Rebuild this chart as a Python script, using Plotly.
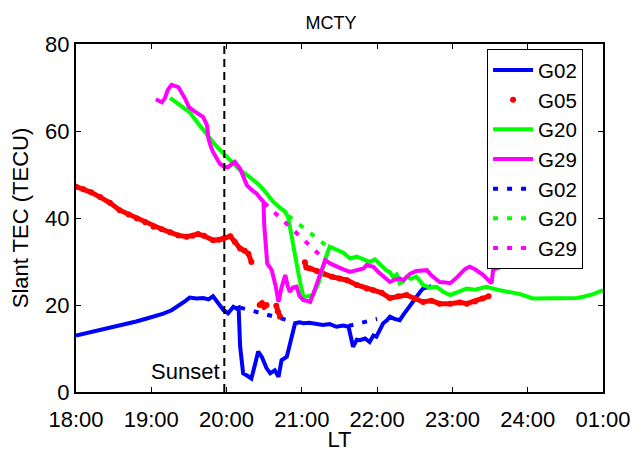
import plotly.graph_objects as go

# ---------------- data ----------------
tick_vals = [18, 19, 20, 21, 22, 23, 24, 25]
tick_text = ["18:00", "19:00", "20:00", "21:00", "22:00", "23:00", "24:00", "01:00"]
sunset_time = 19.97

g02_x = [18.0, 18.2, 18.4, 18.6, 18.8, 18.94, 19.05, 19.16, 19.27, 19.38, 19.45, 19.51, 19.6, 19.69, 19.76,
         19.82, 19.88, 19.96, 20.02, 20.09, 20.13, 20.16, 20.18, 20.2, 20.22, 20.27, 20.33, 20.38, 20.42, 20.47,
         20.53, 20.58, 20.64, 20.69, 20.73, 20.8, 20.85, 20.91, 20.97, 21.02, 21.1, 21.2, 21.28, 21.37, 21.46,
         21.55, 21.62, 21.68, 21.73, 21.77, 21.84, 21.9, 21.95, 21.99, 22.04, 22.08, 22.13, 22.17, 22.23, 22.3,
         22.35, 22.39, 22.45, 22.52, 22.57, 22.61, 22.68, 22.72]
g02_y = [13.0, 13.8, 14.6, 15.3, 16.2, 16.9, 17.4, 18.0, 18.8, 20.0, 20.9, 21.7, 21.5, 21.6, 21.3,
         22.0, 20.5, 18.8, 18.1, 19.6, 19.2, 19.4, 10.5, 7.0, 4.3, 3.8, 3.1, 6.5, 9.3, 8.0,
         5.5, 4.3, 5.0, 3.5, 7.3, 8.1, 11.5, 15.8, 16.0, 15.8, 15.9, 15.6, 15.4, 15.6, 15.0,
         15.3, 15.0, 10.4, 12.0, 11.9, 12.3, 11.5, 13.0, 12.7, 14.5, 15.8, 16.5, 17.3, 16.8, 16.5,
         17.8, 18.8, 20.0, 21.9, 23.0, 23.8, 24.0, 24.3]

g05_x = [18.0, 18.1, 18.2, 18.32, 18.45, 18.58, 18.7, 18.81, 18.92, 19.03, 19.14, 19.25, 19.36, 19.47, 19.55,
         19.62, 19.7, 19.82, 19.9, 19.96, 20.05, 20.11, 20.18, 20.24, 20.29, 20.33, None, 20.44, 20.47, 20.5,
         20.53, None, 20.66, 20.68, 20.71, None, 21.04, 21.06, 21.11, 21.2, 21.28, 21.4, 21.5, 21.6, 21.73,
         21.86, 21.95, 22.06, 22.17, 22.28, 22.39, 22.5, 22.61, 22.72, 22.83, 22.97, 23.1, 23.19, 23.3, 23.4, 23.48]
g05_y = [47.2, 46.6, 45.9, 44.8, 43.5, 41.8, 40.8, 39.9, 39.0, 38.0, 37.4, 36.7, 36.0, 35.7, 35.9,
         36.3, 35.9, 34.9, 35.0, 35.3, 35.8, 34.5, 33.0, 32.5, 31.8, 29.9, None, 20.0, 20.4, 19.6,
         20.0, None, 19.8, 18.5, 17.3, None, 29.8, 28.6, 28.4, 27.8, 27.2, 26.5, 26.1, 25.7, 24.6,
         23.8, 23.4, 22.8, 21.6, 22.0, 22.3, 21.5, 20.7, 21.0, 20.3, 20.3, 20.6, 20.3, 20.8, 21.5, 22.0]

g20_x = [19.25, 19.38, 19.51, 19.62, 19.74, 19.85, 19.96, 20.07, 20.18, 20.3, 20.44, 20.53, 20.62, 20.7, 20.78,
         20.82, 20.85, 20.88, 20.93, 20.98, 21.02, 21.08, 21.15, 21.22, 21.28, 21.33, 21.37, 21.46, 21.55, 21.64,
         21.73, 21.82, 21.9, 21.97, 22.04, 22.12, 22.17, 22.21, 22.26, 22.3, 22.35, 22.39, 22.45, 22.52, 22.57,
         22.61, 22.7, 22.79, 22.88, 22.97, 23.08, 23.19, 23.3, 23.45, 23.6, 23.76, 23.9, 24.07, 24.3, 24.52,
         24.65, 24.74, 24.87, 25.0]
g20_y = [67.6, 66.0, 64.3, 61.8, 59.0, 56.8, 54.8, 52.8, 51.0, 49.5, 47.5, 45.7, 43.7, 42.5, 41.4,
         40.0, 37.0, 33.5, 29.5, 25.0, 21.9, 22.0, 22.3, 25.0, 28.8, 31.5, 33.4, 32.6, 32.0, 30.7,
         31.1, 30.5, 29.9, 30.5, 29.2, 28.0, 27.5, 26.5, 27.0, 25.0, 25.5, 26.5, 26.0, 26.5, 25.5,
         24.6, 24.0, 24.2, 23.0, 22.3, 23.0, 23.8, 23.5, 24.2, 23.5, 23.0, 22.5, 21.5, 21.5, 21.5,
         21.6, 21.9, 22.5, 23.4]

g29_x = [19.06, 19.14, 19.18, 19.22, 19.27, 19.36, 19.45, 19.5, 19.56, 19.62, 19.69, 19.74, 19.76, 19.79, 19.82,
         19.91, 19.96, 20.02, 20.07, 20.11, 20.18, 20.22, 20.27, 20.33, 20.4, 20.45, 20.49, 20.5, 20.52, 20.54,
         20.57, 20.6, 20.65, 20.69, 20.73, 20.78, 20.81, 20.84, 20.88, 20.93, 20.97, 21.02, 21.06, 21.11, 21.15,
         21.2, 21.25, 21.31, 21.38, 21.46, 21.55, 21.64, 21.73, 21.82, 21.86, 21.95, 22.02, 22.08, 22.17, 22.23,
         22.3, 22.35, 22.44, 22.52, 22.61, 22.66, 22.72, 22.79, 22.83, 22.9, 22.97, 23.04, 23.1, 23.17, 23.23,
         23.3, 23.41, 23.48, 23.52, 23.54, 23.6, 23.7, 23.8, 23.9]
g29_y = [67.3, 66.6, 67.5, 69.5, 70.6, 70.1, 67.4, 65.5, 64.7, 64.0, 63.2, 61.3, 58.2, 56.5, 55.2,
         52.5, 51.8, 51.7, 52.4, 52.9, 51.3, 49.5, 47.5, 46.5, 45.6, 44.5, 43.7, 38.5, 33.0, 29.5,
         28.8, 28.0, 24.5, 20.7, 24.0, 26.9, 24.5, 23.0, 24.0, 24.2, 22.0, 21.1, 21.0, 20.7, 22.5,
         25.0, 27.5, 30.3, 29.5, 28.8, 28.2, 27.6, 28.0, 28.4, 29.2, 28.8, 27.5, 26.5, 25.3, 25.8,
         26.1, 25.7, 27.2, 27.8, 28.0, 28.0, 26.8, 25.7, 25.3, 25.2, 25.0, 26.0, 27.2, 28.3, 28.8,
         28.2, 26.9, 25.8, 25.0, 28.0, 28.5, 29.0, 29.5, 30.0]

g02_dot_x = [20.18, 20.88, None, 21.62, 22.0]
g02_dot_y = [19.4, 16.2, None, 15.2, 16.8]
g20_dot_x = [20.82, 21.35]
g20_dot_y = [40.5, 33.3]
g29_dot_x = [20.5, 21.3]
g29_dot_y = [43.5, 30.5]

# ---------------- figure ----------------
BLUE, RED, GREEN, MAG = "#0000ff", "#ff0000", "#00ff00", "#ff00ff"
DOT = "5px,9px"
LW = 4

fig = go.Figure()
fig.add_trace(go.Scatter(x=g02_x, y=g02_y, mode="lines", name="G02",
                         line=dict(color=BLUE, width=LW)))
fig.add_trace(go.Scatter(x=g05_x, y=g05_y, mode="lines", name="G05", showlegend=False,
                         legendgroup="g05", line=dict(color=RED, width=5)))
fig.add_trace(go.Scatter(x=g05_x, y=g05_y, mode="markers", name="G05", legendgroup="g05",
                         marker=dict(color=RED, size=6)))
fig.add_trace(go.Scatter(x=g20_x, y=g20_y, mode="lines", name="G20",
                         line=dict(color=GREEN, width=LW)))
fig.add_trace(go.Scatter(x=g29_x, y=g29_y, mode="lines", name="G29",
                         line=dict(color=MAG, width=LW)))
fig.add_trace(go.Scatter(x=g02_dot_x, y=g02_dot_y, mode="lines", name="G02",
                         line=dict(color=BLUE, width=LW, dash=DOT)))
fig.add_trace(go.Scatter(x=g20_dot_x, y=g20_dot_y, mode="lines", name="G20",
                         line=dict(color=GREEN, width=LW, dash=DOT)))
fig.add_trace(go.Scatter(x=g29_dot_x, y=g29_dot_y, mode="lines", name="G29",
                         line=dict(color=MAG, width=LW, dash=DOT)))

fig.add_shape(type="line", xref="x", yref="y", x0=sunset_time, x1=sunset_time, y0=0, y1=80,
              line=dict(color="black", width=2, dash="8px,5px"), layer="above")
fig.add_annotation(x=sunset_time, y=4.6, xref="x", yref="y", text="Sunset", showarrow=False,
                   xanchor="right", xshift=-2, font=dict(size=22, color="black"))

FONT = "Liberation Sans, Arial, sans-serif"
# the page body adds an 8px offset; figure size and margins compensate for it
fig.update_layout(
    width=636, height=444,
    margin=dict(l=68, r=41, t=36, b=60, autoexpand=False),
    paper_bgcolor="white", plot_bgcolor="white",
    font=dict(family=FONT, size=22, color="black"),
    title=dict(text="MCTY", x=0.484, xref="paper", xanchor="center", y=0.968, yanchor="middle",
               font=dict(size=18, color="black")),
    showlegend=True,
    legend=dict(x=0.78, y=0.985, xanchor="left", yanchor="top", bgcolor="white",
                bordercolor="black", borderwidth=1, font=dict(size=20.5),
                tracegroupgap=0, itemwidth=40),
    xaxis=dict(range=[18, 25], tickvals=tick_vals, ticktext=tick_text, showgrid=False,
               zeroline=False, showline=True, linecolor="black", linewidth=2, mirror="ticks",
               ticks="inside", ticklen=5, tickcolor="black", ticklabelstandoff=7,
               title=dict(text="LT", standoff=0, font=dict(size=22)), tickfont=dict(size=22)),
    yaxis=dict(range=[0, 80], tickvals=[0, 20, 40, 60, 80], showgrid=False,
               zeroline=False, showline=True, linecolor="black", linewidth=2, mirror="ticks",
               ticks="inside", ticklen=5, tickcolor="black",
               title=dict(text="Slant TEC (TECU)", standoff=11, font=dict(size=22)),
               tickfont=dict(size=22)),
)

fig.write_html("out.html")
